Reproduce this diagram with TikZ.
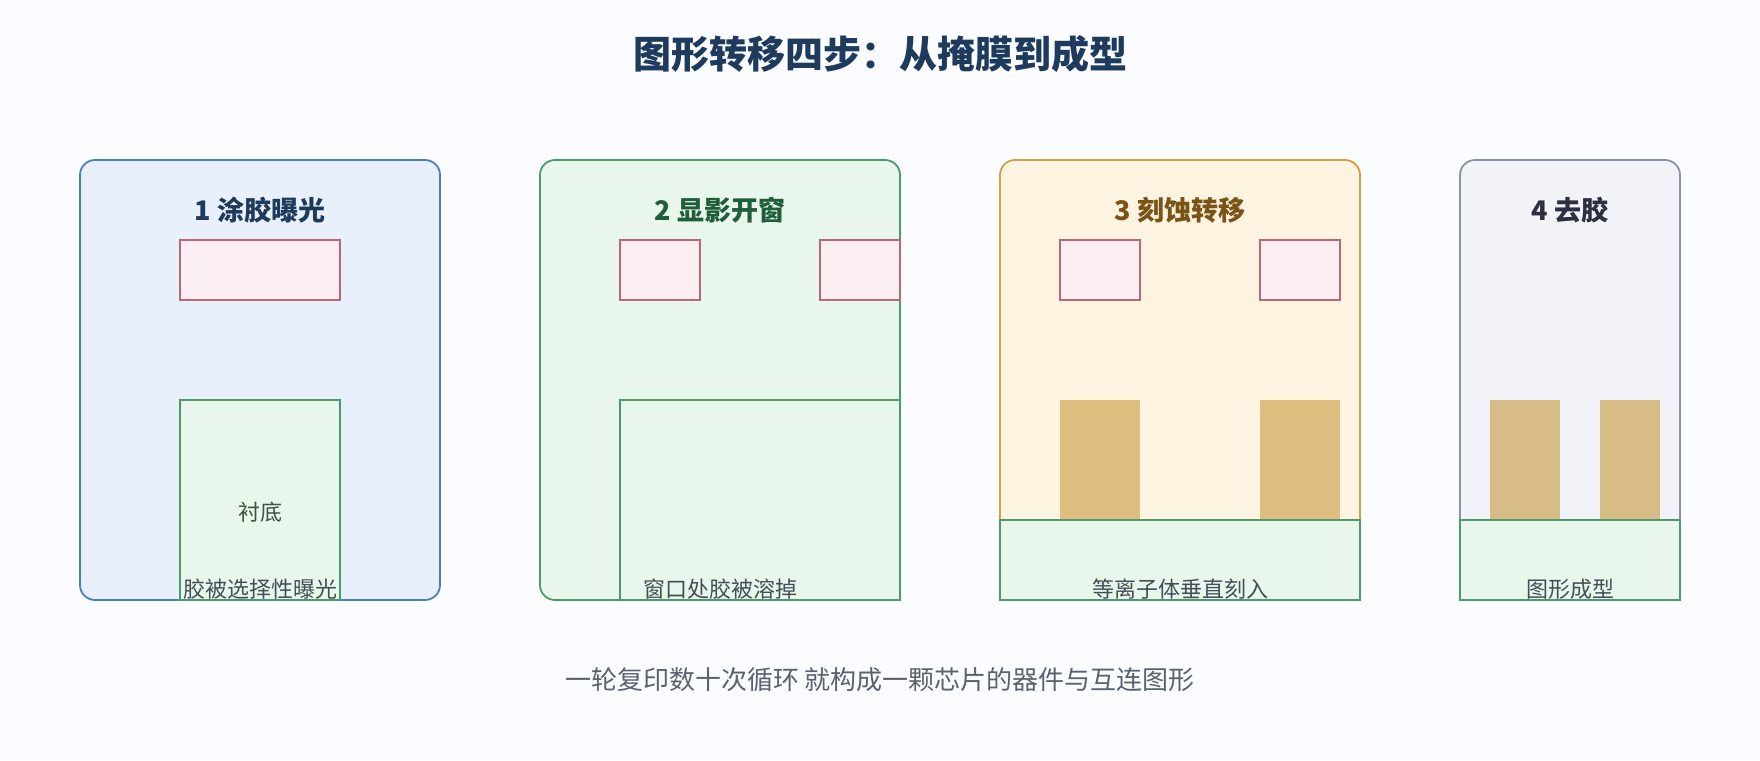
\documentclass[tikz,border=0pt]{standalone}
\usepackage{fontspec}
\setmainfont{Noto Sans CJK SC}
\definecolor{pageBg}{RGB}{250,252,255}
\definecolor{headBlue}{RGB}{30,58,92}
\definecolor{blueLine}{RGB}{74,127,190}
\definecolor{blueFill}{RGB}{232,240,251}
\definecolor{greenLine}{RGB}{74,154,106}
\definecolor{greenFill}{RGB}{233,246,236}
\definecolor{greenHead}{RGB}{30,94,58}
\definecolor{amberLine}{RGB}{212,160,64}
\definecolor{amberFill}{RGB}{253,243,225}
\definecolor{amberHead}{RGB}{122,84,22}
\definecolor{slateLine}{RGB}{138,146,168}
\definecolor{slateFill}{RGB}{242,243,248}
\definecolor{slateHead}{RGB}{44,48,64}
\definecolor{maskLine}{RGB}{184,104,120}
\definecolor{maskFill}{RGB}{252,239,241}
\definecolor{filmTan}{RGB}{222,189,128}
\definecolor{filmTanB}{RGB}{216,188,136}
\definecolor{labelGray}{RGB}{69,78,88}
\definecolor{noteGray}{RGB}{90,98,112}
\definecolor{subText}{RGB}{59,83,64}
\usetikzlibrary{positioning}
\tikzset{
    box/.style={rectangle,inner sep=0pt,outer sep=0pt,line width=1.8pt,anchor=north west},
    panel/.style 2 args={box,draw=#1,fill=#2,rounded corners=15pt,minimum height=440},
    mask/.style={box,draw=maskLine,fill=maskFill,minimum height=60},
    substrate/.style={box,draw=greenLine,fill=greenFill},
    film/.style={box,fill=#1,minimum height=120},
    steptitle/.style={anchor=base,font=\fontsize{27}{31}\selectfont\bfseries,text=#1},
    steplabel/.style={anchor=base,font=\fontsize{22}{26}\selectfont,text=labelGray},
}

\begin{document}
\begin{tikzpicture}[x=1pt,y=-1pt]
                \path[use as bounding box,fill=pageBg] (0,0) rectangle (1760,760);

                \node[anchor=base,font=\fontsize{38}{43}\selectfont\bfseries,text=headBlue] (head) at (880,69) {图形转移四步：从掩膜到成型};

                % 1 coat and expose
                \node[panel={blueLine}{blueFill},minimum width=360] (pa) at (80,160) {};
                \node[mask,minimum width=160] (ma) at (180,240) {};
                \node[substrate,minimum width=160,minimum height=200] (sa) at (180,400) {};
                \node[steptitle=headBlue] (ta) at (260,220) {1 涂胶曝光};
                \node[anchor=base,font=\fontsize{22}{26}\selectfont,text=subText] (na) at (260,520) {衬底};
                \node[steplabel] (la) at (260,597) {胶被选择性曝光};

                % 2 develop
                \node[panel={greenLine}{greenFill},minimum width=360] (pb) at (540,160) {};
                \node[mask,minimum width=80] (mbl) at (620,240) {};
                \node[mask,minimum width=80] (mbr) at (820,240) {};
                \node[substrate,minimum width=280,minimum height=200] (sb) at (620,400) {};
                \node[steptitle=greenHead] (tb) at (720,220) {2 显影开窗};
                \node[steplabel] (lb) at (720,597) {窗口处胶被溶掉};

                % 3 etch
                \node[panel={amberLine}{amberFill},minimum width=360] (pc) at (1000,160) {};
                \node[mask,minimum width=80] (mcl) at (1060,240) {};
                \node[mask,minimum width=80] (mcr) at (1260,240) {};
                \node[film=filmTan,minimum width=80] (fcl) at (1060,400) {};
                \node[film=filmTan,minimum width=80] (fcr) at (1260,400) {};
                \node[substrate,minimum width=360,minimum height=80] (sc) at (1000,520) {};
                \node[steptitle=amberHead] (tc) at (1180,220) {3 刻蚀转移};
                \node[steplabel] (lc) at (1180,597) {等离子体垂直刻入};

                % 4 strip
                \node[panel={slateLine}{slateFill},minimum width=220] (pd) at (1460,160) {};
                \node[film=filmTanB,minimum width=70] (fdl) at (1490,400) {};
                \node[film=filmTanB,minimum width=60] (fdr) at (1600,400) {};
                \node[substrate,minimum width=220,minimum height=80] (sd) at (1460,520) {};
                \node[steptitle=slateHead] (td) at (1570,220) {4 去胶};
                \node[steplabel] (ld) at (1570,597) {图形成型};

                \node[anchor=base,font=\fontsize{26}{30}\selectfont,text=noteGray] (note) at (880,689) {一轮复印数十次循环 就构成一颗芯片的器件与互连图形};
\end{tikzpicture}
\end{document}
